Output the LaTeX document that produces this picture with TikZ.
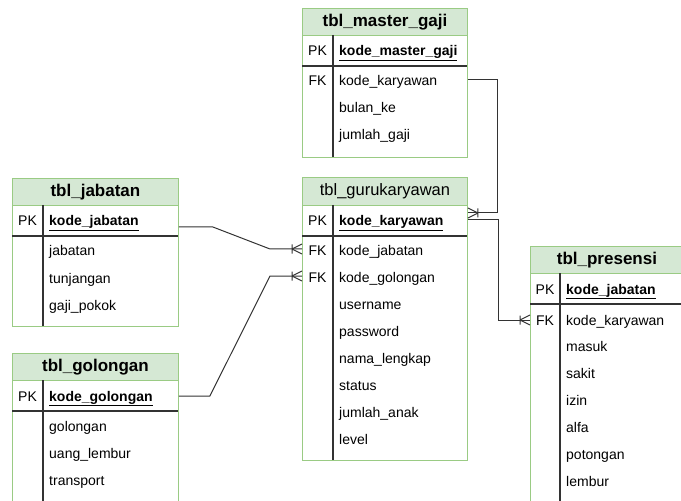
\documentclass[tikz,border=0pt]{standalone}
\usepackage{fontspec}
\setmainfont{Liberation Sans}
\usetikzlibrary{calc}
\definecolor{hdr}{HTML}{D5E8D4}
\definecolor{bdr}{HTML}{9ACB84}
\definecolor{ink}{HTML}{333333}
\tikzset{
  tblbox/.style={draw=bdr, line width=0.9bp, fill=white, anchor=north west, inner sep=0},
  hdrbox/.style={draw=bdr, line width=0.9bp, fill=hdr, anchor=north west, inner sep=0, minimum height=27bp, font=\fontsize{17bp}{19bp}\selectfont\bfseries},
  hdrplain/.style={hdrbox, font=\fontsize{16.5bp}{19bp}\selectfont},
  divline/.style={draw=ink, line width=1.2bp},
  cell/.style={anchor=west, inner sep=0, text height=10bp, text depth=3bp, font=\fontsize{14bp}{16bp}\selectfont},
  pkcell/.style={cell, font=\fontsize{14bp}{16bp}\selectfont\bfseries},
  key/.style={anchor=center, inner sep=0, text height=10bp, text depth=3bp, font=\fontsize{14bp}{16bp}\selectfont},
  conn/.style={draw=ink, line width=1bp},
  crow/.pic={\draw[conn] (-10,0) -- (0,-5) (-10,0) -- (0,5) (-10,-4.5) -- (-10,4.5);},
}
\begin{document}
\begin{tikzpicture}[x=1bp,y=-1bp]
\useasboundingbox (0,0) rectangle (681,501);
\clip (0,0) rectangle (681,501);

% ---------- tbl_master_gaji
\node[tblbox, minimum width=165bp, minimum height=149bp] (mg) at (302,8) {};
\node[hdrbox, minimum width=165bp] (mgh) at (302,8) {tbl\_master\_gaji};
\draw[divline] (302,66) -- (467,66);
\draw[divline] (333,35) -- (333,157);
\node[key] (mgpkk) at (317.5,52.5) {PK};
\node[pkcell] (mgpk) at (339,52.5) {\underline{kode\_master\_gaji}};
\node[key] (mgfkk) at (317.5,82.5) {FK};
\node[cell] (mgfk) at (339,82.5) {kode\_karyawan};
\node[cell] (mgr2) at (339,109.5) {bulan\_ke};
\node[cell] (mgr3) at (339,136.5) {jumlah\_gaji};

% ---------- tbl_jabatan
\node[tblbox, minimum width=166bp, minimum height=148bp] (jab) at (12,178) {};
\node[hdrbox, minimum width=166bp] (jabh) at (12,178) {tbl\_jabatan};
\draw[divline] (12,236) -- (178,236);
\draw[divline] (43,205) -- (43,326);
\node[key] (jabpkk) at (27.5,222.5) {PK};
\node[pkcell] (jabpk) at (49,222.5) {\underline{kode\_jabatan}};
\node[cell] (jabr1) at (49,252.5) {jabatan};
\node[cell] (jabr2) at (49,279.5) {tunjangan};
\node[cell] (jabr3) at (49,306.5) {gaji\_pokok};

% ---------- tbl_golongan
\node[tblbox, minimum width=166bp, minimum height=160bp] (gol) at (12,353) {};
\node[hdrbox, minimum width=166bp] (golh) at (12,353) {tbl\_golongan};
\draw[divline] (12,411) -- (178,411);
\draw[divline] (43,380) -- (43,513);
\node[key] (golpkk) at (27.5,397.5) {PK};
\node[pkcell] (golpk) at (49,397.5) {\underline{kode\_golongan}};
\node[cell] (golr1) at (49,427.5) {golongan};
\node[cell] (golr2) at (49,454.5) {uang\_lembur};
\node[cell] (golr3) at (49,481.5) {transport};

% ---------- tbl_gurukaryawan
\node[tblbox, minimum width=165bp, minimum height=282.5bp] (gk) at (302,177.5) {};
\node[hdrplain, minimum width=165bp, minimum height=27.5bp] (gkh) at (302,177.5) {tbl\_gurukaryawan};
\draw[divline] (302,236) -- (467,236);
\draw[divline] (333,205) -- (333,460);
\node[key] (gkpkk) at (317.5,222.5) {PK};
\node[pkcell] (gkpk) at (339,222.5) {\underline{kode\_karyawan}};
\node[key] (gkfk1) at (317.5,252.5) {FK};
\node[cell] (gkjab) at (339,252.5) {kode\_jabatan};
\node[key] (gkfk2) at (317.5,279.4) {FK};
\node[cell] (gkgol) at (339,279.4) {kode\_golongan};
\node[cell] (gkr3) at (339,306.3) {username};
\node[cell] (gkr4) at (339,333.2) {password};
\node[cell] (gkr5) at (339,360.1) {nama\_lengkap};
\node[cell] (gkr6) at (339,387) {status};
\node[cell] (gkr7) at (339,413.9) {jumlah\_anak};
\node[cell] (gkr8) at (339,440.8) {level};

% ---------- tbl_presensi
\node[tblbox, minimum width=153bp, minimum height=270bp] (pr) at (530,246) {};
\node[hdrbox, minimum width=153bp] (prh) at (530,246) {tbl\_presensi};
\draw[divline] (530,304) -- (683,304);
\draw[divline] (560,273) -- (560,516);
\node[key] (prpkk) at (545,290.5) {PK};
\node[pkcell] (prpk) at (566,290.5) {\underline{kode\_jabatan}};
\node[key] (prfkk) at (545,321.5) {FK};
\node[cell] (prfk) at (566,321.5) {kode\_karyawan};
\node[cell] (prr2) at (566,348.4) {masuk};
\node[cell] (prr3) at (566,375.3) {sakit};
\node[cell] (prr4) at (566,402.2) {izin};
\node[cell] (prr5) at (566,429.1) {alfa};
\node[cell] (prr6) at (566,456) {potongan};
\node[cell] (prr7) at (566,482.9) {lembur};

% ---------- connectors
\coordinate (e1) at ($(gk.west |- gkjab.center)+(0,-3.5)$);
\coordinate (e2) at ($(gk.west |- gkgol.center)+(0,-3.4)$);
\coordinate (e3) at ($(gk.east |- gkpk.center)+(0,-9.5)$);
\coordinate (e4) at ($(pr.west |- prfk.center)+(0,-1.5)$);

\draw[conn] ($(jab.east |- jabpk.center)+(0,4.5)$) -- ++(34,0) -- ($(e1)+(-32,0)$) -- (e1);
\draw[conn] ($(gol.east |- golpk.center)+(0,-1.5)$) -- ++(31,0) -- ($(e2)+(-32,0)$) -- (e2);
\draw[conn] ($(mg.east |- mgfk.center)+(0,-2.5)$) -- ++(30,0) |- (e3);
\draw[conn] ($(gk.east |- gkpk.center)+(0,-2.5)$) -- ++(31,0) |- (e4);

\pic at (e1) {crow};
\pic at (e2) {crow};
\pic[rotate=180] at (e3) {crow};
\pic at (e4) {crow};
\end{tikzpicture}
\end{document}
